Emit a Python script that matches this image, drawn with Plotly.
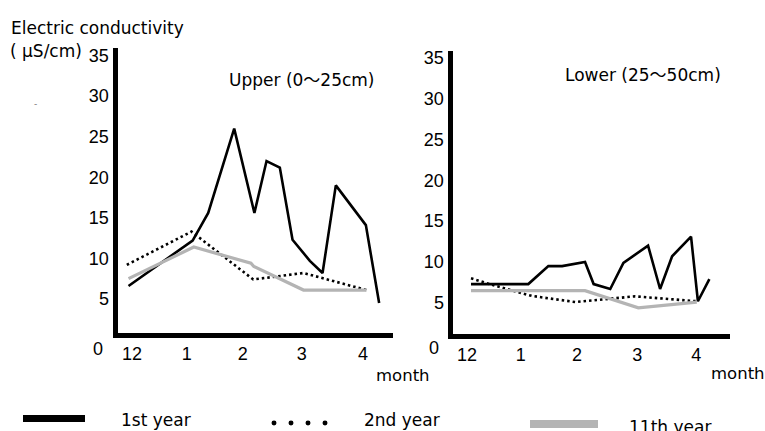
import plotly.graph_objects as go

W, H = 765, 431

# ---- data (x in months after Dec: 0 = Dec, 1 = Jan, ... 4 = Apr) ----
series_names = ["1st year", "2nd year", "11th year"]
month_labels = ["12", "1", "2", "3", "4"]
upper_tick_pos = [0, 0.95, 1.92, 2.94, 4]
lower_tick_pos = [0, 0.94, 1.92, 2.97, 4]
y_ticks = [5, 10, 15, 20, 25, 30, 35]

upper_1st_x = [-0.06, 1.05, 1.32, 1.77, 2.12, 2.33, 2.56, 2.78, 3.08, 3.30, 3.53, 4.05, 4.28]
upper_1st_y = [6.6, 12.2, 15.6, 26.0, 15.6, 22.0, 21.2, 12.3, 9.7, 8.2, 19.0, 14.1, 4.5]
upper_2nd_x = [-0.09, 1.03, 2.10, 2.97, 4.06]
upper_2nd_y = [9.2, 13.3, 7.4, 8.2, 6.1]
upper_11th_x = [-0.06, 1.07, 2.06, 2.11, 2.97, 4.06]
upper_11th_y = [7.5, 11.4, 9.4, 9.0, 6.1, 6.1]

lower_1st_x = [0.07, 1.07, 1.42, 1.66, 2.06, 2.21, 2.50, 2.73, 3.16, 3.37, 3.58, 3.91, 4.03, 4.23]
lower_1st_y = [7.3, 7.3, 9.5, 9.5, 10.0, 7.3, 6.7, 9.9, 12.0, 6.7, 10.7, 13.1, 5.2, 7.9]
lower_2nd_x = [0.07, 0.49, 1.13, 1.89, 2.93, 4.01]
lower_2nd_y = [8.0, 7.1, 5.85, 5.1, 5.8, 5.2]
lower_11th_x = [0.07, 2.06, 2.99, 4.01]
lower_11th_y = [6.5, 6.5, 4.4, 5.1]

TICK_FONT = "Liberation Sans, Arial, Noto Sans CJK JP, sans-serif"
TEXT_FONT = "DejaVu Sans, Noto Sans CJK JP, sans-serif"
BLACK = "#000000"
GRAY = "#b4b4b4"

styles = [
    dict(color=BLACK, width=2.6, dash="solid"),
    dict(color=BLACK, width=2.6, dash="2.5px,3px"),
    dict(color=GRAY, width=3.2, dash="solid"),
]

fig = go.Figure()
panels = [
    ("x", "y", [(upper_1st_x, upper_1st_y), (upper_2nd_x, upper_2nd_y), (upper_11th_x, upper_11th_y)]),
    ("x2", "y2", [(lower_1st_x, lower_1st_y), (lower_2nd_x, lower_2nd_y), (lower_11th_x, lower_11th_y)]),
]
for xa, ya, data in panels:
    for (xs, ys), name, st in zip(data, series_names, styles):
        fig.add_trace(go.Scatter(x=xs, y=ys, mode="lines", name=name,
                                 line=st, xaxis=xa, yaxis=ya, showlegend=False,
                                 hoverinfo="skip"))

def px_x(p):
    return p / W

def px_y(p):
    return 1 - p / H

axis_common = dict(showgrid=False, zeroline=False, showline=True, linecolor=BLACK,
                   linewidth=5, ticks="", tickfont=dict(family=TICK_FONT, size=18, color=BLACK),
                   fixedrange=True)

fig.update_layout(
    width=W, height=H, margin=dict(l=0, r=0, t=0, b=0),
    paper_bgcolor="white", plot_bgcolor="white",
    showlegend=False,
    xaxis=dict(domain=[px_x(117.5), px_x(393)], range=[-0.251, 4.52],
               tickvals=upper_tick_pos, ticktext=month_labels, anchor="y", **axis_common),
    yaxis=dict(domain=[px_y(332.5), px_y(45)], range=[0.78, 35.97],
               tickvals=y_ticks, anchor="x", **axis_common),
    xaxis2=dict(domain=[px_x(452.5), px_x(730)], range=[-0.253, 4.59],
                tickvals=lower_tick_pos, ticktext=month_labels, anchor="y2", **axis_common),
    yaxis2=dict(domain=[px_y(333.5), px_y(48)], range=[1.17, 35.86],
                tickvals=y_ticks, anchor="x2", **axis_common),
)

def text(s, x, y, size=17, xanchor="left", yanchor="middle", color=BLACK, family=TEXT_FONT):
    fig.add_annotation(text=s, x=px_x(x), y=px_y(y), xref="paper", yref="paper",
                       xanchor=xanchor, yanchor=yanchor, showarrow=False,
                       font=dict(family=family, size=size, color=color))

# titles
text("Electric conductivity", 9, 25)
text("( μS/cm)", 8, 48)
text("Upper (0〜25cm)", 227, 78)
text("Lower (25〜50cm)", 563, 73)
text("month", 374, 375, size=16.5)
text("month", 709, 373, size=16.5)
text("-", 32, 102, size=9, color="#777777")

# zero labels (offset below the axis as in the original)
text("0", 105, 348, size=18, xanchor="right", family=TICK_FONT)
text("0", 441, 347, size=18, xanchor="right", family=TICK_FONT)

# legend (drawn manually, as in the original layout)
fig.add_shape(type="rect", xref="paper", yref="paper",
              x0=px_x(23), x1=px_x(85), y0=px_y(422), y1=px_y(415),
              fillcolor=BLACK, line=dict(width=0))
text(series_names[0], 119, 420)
for cx in [274, 291, 308, 325]:
    fig.add_shape(type="circle", xref="paper", yref="paper",
                  x0=px_x(cx - 2.5), x1=px_x(cx + 2.5), y0=px_y(425.5), y1=px_y(420.5),
                  fillcolor=BLACK, line=dict(width=0))
text(series_names[1], 362, 420)
fig.add_shape(type="rect", xref="paper", yref="paper",
              x0=px_x(530), x1=px_x(598), y0=px_y(428), y1=px_y(420),
              fillcolor=GRAY, line=dict(width=0))
text(series_names[2], 627, 427)

fig.write_html("out.html", config={"displayModeBar": False},
               post_script="document.body.style.margin='0';document.body.style.padding='0';")
